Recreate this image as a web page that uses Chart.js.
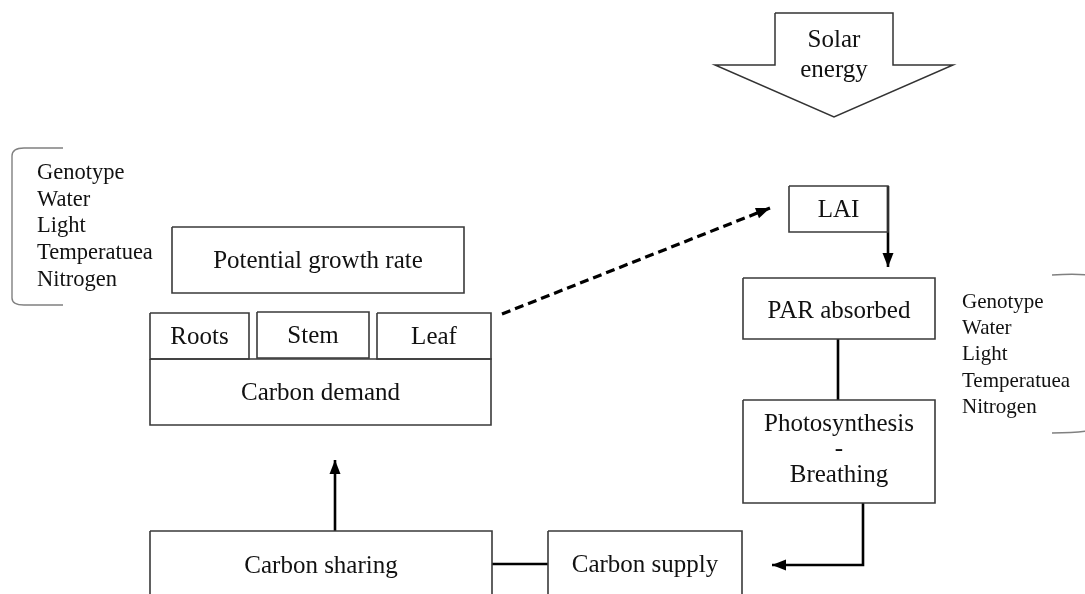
<!DOCTYPE html>
<html>
<head>
<meta charset="utf-8">
<script src="https://cdn.jsdelivr.net/npm/chart.js@4"></script>
<style>
  html, body { margin: 0; padding: 0; background: #fff; }
  #diagram { display: block; }
</style>
</head>
<body>
<canvas id="diagram" width="1085" height="594"></canvas>
<script>
// diagram boxes (in diagram units, y grows downward)
const boxNames = ["Potential growth rate", "Roots", "Stem", "Leaf", "Carbon demand", "LAI",
  "PAR absorbed", "Photosynthesis\n-\nBreathing", "Carbon sharing", "Carbon supply"];
const boxX0 = [172, 150, 257, 377, 150, 789, 743, 743, 150, 548];
const boxX1 = [464, 249, 369, 491, 491, 888, 935, 935, 492, 742];
const boxY0 = [227, 313, 312, 313, 359, 186, 278, 400, 531, 531];
const boxY1 = [293, 359, 358, 359, 425, 232, 339, 503, 640, 640];
const labelY = [260, 336, 335, 336, 392, 209, 310, 448, 565, 564];

// solar energy block arrow outline
const solarX = [775, 893, 893, 953, 834, 715, 775, 775];
const solarY = [13, 13, 65, 65, 117, 65, 65, 13];
const solarText = ["Solar", "energy"];
const solarTextY = [39, 69];

// factor lists
const factors = ["Genotype", "Water", "Light", "Temperatuea", "Nitrogen"];
const leftFactorY = [171, 198, 224, 251, 278];
const rightFactorY = [300, 326, 352, 379, 405];

// connectors: x points, y points, arrow at end, dashed
const links = [
  { x: [502, 770], y: [314, 208], arrow: true, dash: true },
  { x: [888, 888], y: [186, 267], arrow: true, dash: false },
  { x: [838, 838], y: [339, 400], arrow: false, dash: false },
  { x: [863, 863, 772], y: [503, 565, 565], arrow: true, dash: false },
  { x: [492, 548], y: [564, 564], arrow: false, dash: false },
  { x: [335, 335], y: [531, 460], arrow: true, dash: false }
];

const serif = "'Liberation Serif', 'Times New Roman', serif";
const datasets = [];

boxNames.forEach((name, i) => {
  datasets.push({
    label: name,
    data: [
      { x: boxX0[i], y: boxY0[i] }, { x: boxX1[i], y: boxY0[i] },
      { x: boxX1[i], y: boxY1[i] }, { x: boxX0[i], y: boxY1[i] },
      { x: boxX0[i], y: boxY0[i] }
    ],
    borderColor: "#3a3a3a",
    borderWidth: 1.6
  });
});

datasets.push({
  label: "Solar energy",
  data: solarX.map((x, i) => ({ x: x, y: solarY[i] })),
  borderColor: "#333",
  borderWidth: 1.5
});

links.forEach((l, i) => {
  datasets.push({
    label: "link" + i,
    data: l.x.map((x, k) => ({ x: x, y: l.y[k] })),
    borderColor: "#000",
    borderWidth: l.dash ? 3.2 : 2.6,
    borderDash: l.dash ? [9, 5] : [],
    borderCapStyle: "butt"
  });
});

datasets.forEach(d => {
  d.showLine = true;
  d.fill = false;
  d.pointRadius = 0;
  d.pointHoverRadius = 0;
  d.tension = 0;
  d.clip = false;
});

// text, arrowheads and brackets
const extras = {
  id: "extras",
  afterDatasetsDraw(chart) {
    const ctx = chart.ctx;
    const sx = chart.scales.x, sy = chart.scales.y;
    const px = v => sx.getPixelForValue(v);
    const py = v => sy.getPixelForValue(v);

    ctx.save();
    // arrowheads
    links.forEach(l => {
      if (!l.arrow) return;
      const n = l.x.length;
      const x2 = px(l.x[n - 1]), y2 = py(l.y[n - 1]);
      const x1 = px(l.x[n - 2]), y1 = py(l.y[n - 2]);
      const a = Math.atan2(y2 - y1, x2 - x1);
      const len = 14, half = 5.5;
      ctx.fillStyle = "#000";
      ctx.beginPath();
      ctx.moveTo(x2, y2);
      ctx.lineTo(x2 - len * Math.cos(a) + half * Math.sin(a), y2 - len * Math.sin(a) - half * Math.cos(a));
      ctx.lineTo(x2 - len * Math.cos(a) - half * Math.sin(a), y2 - len * Math.sin(a) + half * Math.cos(a));
      ctx.closePath();
      ctx.fill();
    });

    // box labels
    ctx.fillStyle = "#111";
    ctx.textAlign = "center";
    ctx.textBaseline = "alphabetic";
    ctx.font = "25px " + serif;
    boxNames.forEach((name, i) => {
      const lines = name.split("\n");
      const cx = px((boxX0[i] + boxX1[i]) / 2);
      lines.forEach((t, k) => {
        const cy = labelY[i] + (k - (lines.length - 1) / 2) * 25.5;
        ctx.fillText(t, cx, py(cy) + 8);
      });
    });
    solarText.forEach((t, k) => ctx.fillText(t, px(834), py(solarTextY[k]) + 8));

    // factor lists
    ctx.textAlign = "left";
    ctx.font = "22.5px " + serif;
    factors.forEach((t, k) => ctx.fillText(t, px(37), py(leftFactorY[k]) + 8));
    ctx.font = "21px " + serif;
    factors.forEach((t, k) => ctx.fillText(t, px(962), py(rightFactorY[k]) + 8));

    // brackets
    ctx.strokeStyle = "#808080";
    ctx.lineWidth = 1.4;
    ctx.beginPath();
    ctx.moveTo(px(63), py(148));
    ctx.lineTo(px(24), py(148));
    ctx.quadraticCurveTo(px(12), py(148), px(12), py(156));
    ctx.lineTo(px(12), py(298));
    ctx.quadraticCurveTo(px(12), py(305), px(24), py(305));
    ctx.lineTo(px(63), py(305));
    ctx.stroke();

    ctx.beginPath();
    ctx.moveTo(px(1052), py(275));
    ctx.quadraticCurveTo(px(1080), py(273), px(1092), py(276));
    ctx.moveTo(px(1052), py(433));
    ctx.quadraticCurveTo(px(1080), py(433), px(1092), py(430));
    ctx.stroke();
    ctx.restore();
  }
};

new Chart(document.getElementById("diagram").getContext("2d"), {
  type: "scatter",
  data: { datasets: datasets },
  options: {
    responsive: false,
    animation: false,
    events: [],
    layout: { padding: 0 },
    plugins: { legend: { display: false }, tooltip: { enabled: false } },
    scales: {
      x: { type: "linear", min: 0, max: 1085, display: false },
      y: { type: "linear", min: 0, max: 594, reverse: true, display: false }
    }
  },
  plugins: [extras]
});
</script>
</body>
</html>
